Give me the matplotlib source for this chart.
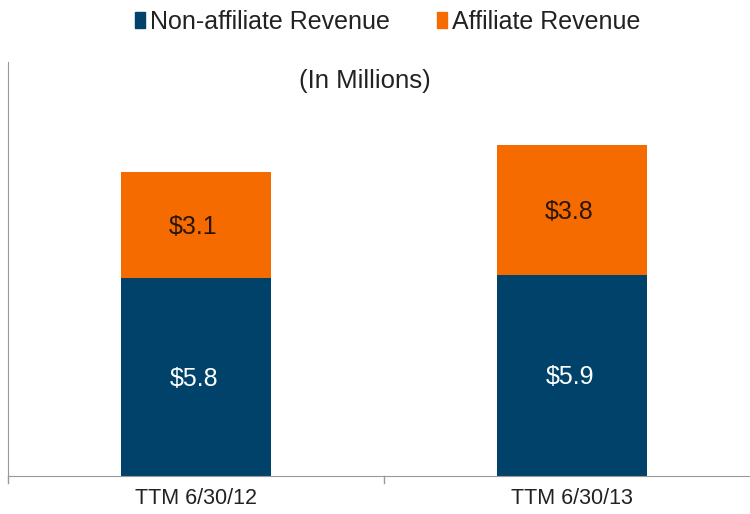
import matplotlib
matplotlib.use("Agg")
import matplotlib.pyplot as plt
from matplotlib.patches import Patch

categories = ["TTM 6/30/12", "TTM 6/30/13"]
non_affiliate = [5.8, 5.9]
affiliate = [3.1, 3.8]
series_names = ["Non-affiliate Revenue", "Affiliate Revenue"]

navy = "#00426A"
orange = "#F56B00"

plt.rcParams['font.family'] = ['Liberation Sans', 'DejaVu Sans']

fig = plt.figure(figsize=(7.5, 5.14), dpi=100)
ax = fig.add_axes([8/750, 38/514, 752/750, 414/514])

x = list(range(len(categories)))
w = 0.4
ax.bar(x, non_affiliate, width=w, color=navy)
ax.bar(x, affiliate, width=w, bottom=non_affiliate, color=orange)

for xi, n, a in zip(x, non_affiliate, affiliate):
    ax.text(xi - 0.005, n / 2 - 0.05, f"${n:.1f}", ha="center", va="center", color="white", fontsize=18)
    ax.text(xi - 0.008, n + a / 2 - 0.05, f"${a:.1f}", ha="center", va="center", color="#2a1608", fontsize=18)

ax.set_xlim(-0.5, 1.5)
ax.set_ylim(0, 12.14)
ax.set_xticks(x)
ax.set_xticklabels(categories, fontsize=15.5, color="#222222")
ax.tick_params(axis="x", length=0, pad=9)
ax.set_yticks([])
for s in ["top", "right"]:
    ax.spines[s].set_visible(False)
ax.spines["left"].set_color("#999999")
ax.spines["bottom"].set_color("#999999")
# category separator ticks
for t in [-0.5, 0.5]:
    ax.plot([t, t], [0, -0.2], color="#999999", lw=1, clip_on=False)

ax.text(0.475, 0.955, "(In Millions)", transform=ax.transAxes, ha="center", va="center",
        fontsize=18.5, color="#222222")

handles = [Patch(color=navy), Patch(color=orange)]
fig.legend(handles, series_names, loc="center", bbox_to_anchor=(0.517, 0.958), ncol=2,
           frameon=False, fontsize=18, handlelength=0.4, handleheight=0.6,
           handletextpad=0.2, columnspacing=1.9, labelcolor="#222222")

fig.savefig("out.png", dpi=100)
